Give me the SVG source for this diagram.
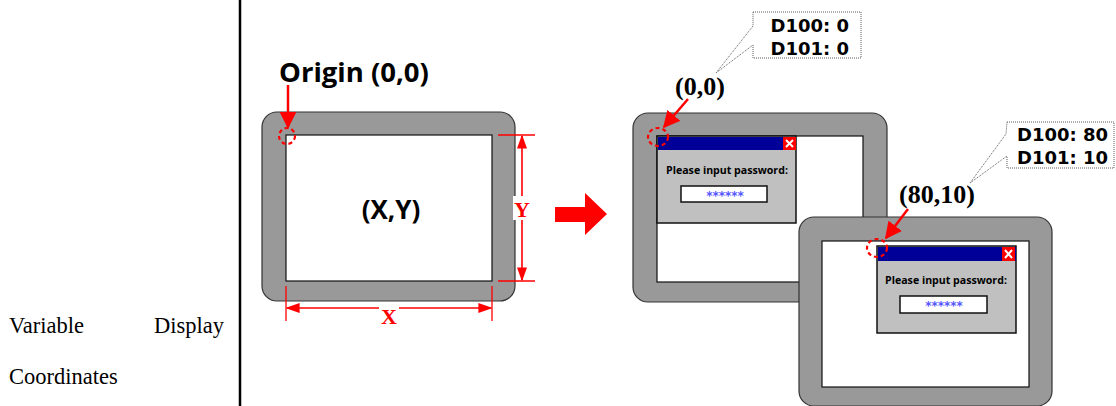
<svg xmlns="http://www.w3.org/2000/svg" width="1116" height="406" viewBox="0 0 1116 406">
<defs>
<style>
.screen{fill:#999999;stroke:#333333;stroke-width:1.2}
.inner{fill:#ffffff;stroke:#111111;stroke-width:1.2}
.dlg{fill:#c0c0c0;stroke:#111111;stroke-width:1.5}
.title{fill:#000099}
.close{fill:#ff0000}
.input{fill:#ffffff;stroke:#111111;stroke-width:1.5}
.lbl{font-family:"Open Sans","DejaVu Sans",sans-serif;font-weight:bold;fill:#000}
.co{font-family:"DejaVu Sans",sans-serif;font-weight:bold;fill:#000;font-size:18px}
.dash{stroke:#ff0000;fill:none;stroke-width:2.2;stroke-dasharray:4 3}
.callout{fill:#ffffff;stroke:#333;stroke-width:0.8;stroke-dasharray:1 1}
.dim{stroke:#ff0000;stroke-width:1.3}
</style>
<marker id="ah" viewBox="0 0 10 10" refX="9" refY="5" markerWidth="17" markerHeight="17" orient="auto" markerUnits="userSpaceOnUse"><path d="M0,0 L10,5 L0,10 z" fill="#ff0000"/></marker>
<marker id="ahd" viewBox="0 0 10 10" refX="9" refY="5" markerWidth="14" markerHeight="10" orient="auto-start-reverse" markerUnits="userSpaceOnUse" preserveAspectRatio="none"><path d="M0,0 L10,5 L0,10 z" fill="#ff0000"/></marker>
</defs>

<g id="side-text">
<text x="9" y="333" font-family="Liberation Serif, Times New Roman, serif" font-size="22.5" fill="#000">Variable</text>
<text x="224" y="333" font-family="Liberation Serif, Times New Roman, serif" font-size="22.5" fill="#000" text-anchor="end">Display</text>
<text x="9" y="384" font-family="Liberation Serif, Times New Roman, serif" font-size="22.5" fill="#000">Coordinates</text>
<line x1="240" y1="0" x2="240" y2="406" stroke="#000" stroke-width="2.5"/>
</g>

<g id="screen-left">
<rect class="screen" x="262" y="112" width="253" height="189" rx="15"/>
<rect class="inner" x="286" y="135" width="206" height="146"/>
<text class="lbl" x="391" y="219" font-size="26" text-anchor="middle">(X,Y)</text>
</g>

<g id="origin-label">
<text class="lbl" x="279" y="82" font-size="27.5">Origin (0,0)</text>
<ellipse class="dash" cx="287" cy="136" rx="8" ry="8"/>
</g>

<g id="dims">
<line class="dim" x1="498" y1="135" x2="535" y2="135"/>
<line class="dim" x1="498" y1="281" x2="535" y2="281"/>
<line class="dim" x1="286" y1="286" x2="286" y2="321"/>
<line class="dim" x1="492" y1="286" x2="492" y2="321"/>
<line x1="522" y1="136" x2="522" y2="280" stroke="#ff0000" stroke-width="1.6" marker-start="url(#ahd)" marker-end="url(#ahd)"/>
<line x1="287" y1="308" x2="491" y2="308" stroke="#ff0000" stroke-width="1.6" marker-start="url(#ahd)" marker-end="url(#ahd)"/>
<rect x="513" y="196" width="19" height="24" fill="#fff"/>
<text x="522" y="217" font-family="Liberation Serif, serif" font-weight="bold" font-size="22" fill="#ff0000" text-anchor="middle">Y</text>
<rect x="379" y="307" width="20" height="18" fill="#fff"/>
<text x="389" y="324" font-family="Liberation Serif, serif" font-weight="bold" font-size="22" fill="#ff0000" text-anchor="middle">X</text>
</g>

<g id="big-arrow">
<polygon points="555,207 585,207 585,193 607,214 585,235 585,222 555,222" fill="#ff0000"/>
</g>

<g id="screen-mid">
<rect class="screen" x="633" y="113" width="254" height="189" rx="15"/>
<rect class="inner" x="657" y="136" width="206" height="146"/>
<g id="dialog-mid">
<rect class="dlg" x="657" y="136" width="139" height="87"/>
<rect class="title" x="658" y="137" width="138" height="13"/>
<rect class="close" x="783" y="137" width="13" height="13"/>
<path d="M786,140 L793,147 M793,140 L786,147" stroke="#fff" stroke-width="2"/>
<text class="lbl" x="727" y="174" font-size="10.6" text-anchor="middle">Please input password:</text>
<rect class="input" x="681" y="186" width="86" height="16"/>
<text x="725" y="200" font-family="DejaVu Sans, sans-serif" font-weight="bold" font-size="12" fill="#5555ff" text-anchor="middle">******</text>
</g>
</g>

<g id="screen-right">
<rect class="screen" x="799" y="217" width="253" height="189" rx="15"/>
<rect class="inner" x="822" y="241" width="207" height="146"/>
<g id="dialog-right">
<rect class="dlg" x="877" y="246" width="139" height="87"/>
<rect class="title" x="878" y="247" width="138" height="14"/>
<rect class="close" x="1002" y="247" width="13" height="14"/>
<path d="M1005,250 L1012,258 M1012,250 L1005,258" stroke="#fff" stroke-width="2"/>
<text class="lbl" x="946" y="284" font-size="10.6" text-anchor="middle">Please input password:</text>
<rect class="input" x="900" y="296" width="87" height="17"/>
<text x="944" y="310" font-family="DejaVu Sans, sans-serif" font-weight="bold" font-size="12" fill="#5555ff" text-anchor="middle">******</text>
</g>
</g>

<g id="coord-00">
<text x="700" y="95" font-family="Liberation Serif, Times New Roman, serif" font-weight="bold" font-size="26" fill="#000" text-anchor="middle">(0,0)</text>
<ellipse class="dash" cx="658" cy="137" rx="10" ry="9"/>
</g>

<g id="coord-8010">
<text x="937" y="203" font-family="Liberation Serif, Times New Roman, serif" font-weight="bold" font-size="26" fill="#000" text-anchor="middle">(80,10)</text>
<ellipse class="dash" cx="877" cy="248" rx="10" ry="9"/>
</g>

<g id="callout-1">
<path class="callout" d="M753,12 L861,12 L861,58 L753,58 L753,45 L716,73 L753,26 Z"/>
<text class="co" x="849" y="32" text-anchor="end">D100: 0</text>
<text class="co" x="849" y="55" text-anchor="end">D101: 0</text>
</g>

<g id="callout-2">
<path class="callout" d="M1007,122 L1114,122 L1114,168 L1007,168 L1007,156 L970,183 L1006,134 Z"/>
<text class="co" x="1108" y="141" text-anchor="end">D100: 80</text>
<text class="co" x="1108" y="164" text-anchor="end">D101: 10</text>
</g>

<g id="connectors">
<line x1="288" y1="85" x2="288" y2="127" stroke="#ff0000" stroke-width="2.5" marker-end="url(#ah)"/>
<line x1="688" y1="99" x2="664" y2="127" stroke="#ff0000" stroke-width="2.5" marker-end="url(#ah)"/>
<line x1="908" y1="209" x2="886" y2="238" stroke="#ff0000" stroke-width="2.5" marker-end="url(#ah)"/>
</g>
</svg>
